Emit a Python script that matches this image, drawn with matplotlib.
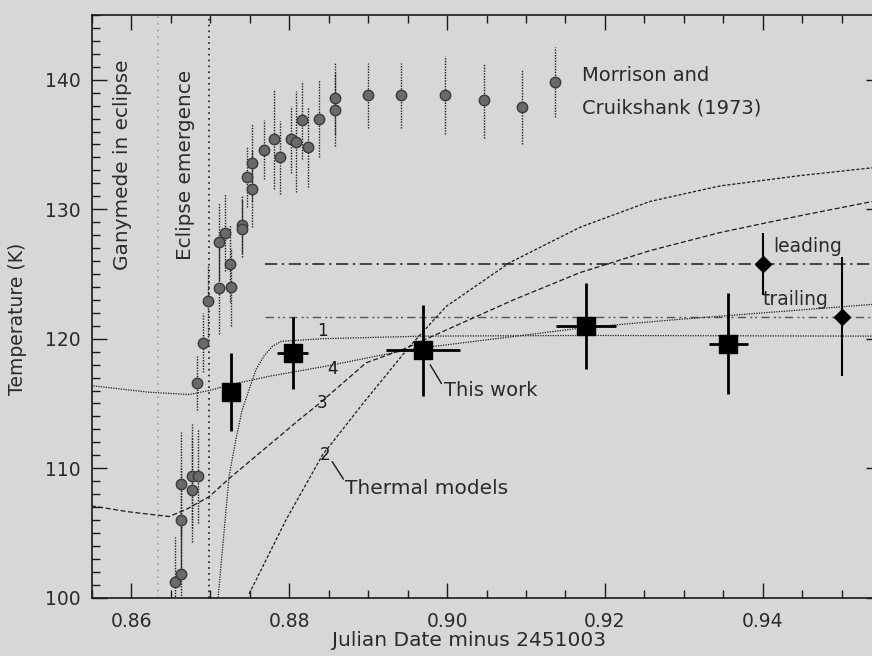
import matplotlib
matplotlib.use("Agg")
import matplotlib.pyplot as plt
from matplotlib.ticker import MultipleLocator

# Morrison and Cruikshank (1973) points
mc_x = [0.86553, 0.86625, 0.86625, 0.86625, 0.86764, 0.86848, 0.86764, 0.86836,
        0.86908, 0.86975, 0.87111, 0.8726, 0.87251, 0.87111, 0.87187, 0.87399,
        0.87399, 0.87463, 0.87534, 0.87534, 0.87674, 0.8781, 0.87882, 0.88022,
        0.88085, 0.88156, 0.88232, 0.88372, 0.8858, 0.8858, 0.88998, 0.89413,
        0.89977, 0.90463, 0.9095]
mc_y = [101.2, 101.8, 106.0, 108.8, 109.4, 109.4, 108.3, 116.6,
        119.7, 122.9, 123.9, 124.0, 125.8, 127.5, 128.2, 128.8,
        128.5, 132.5, 133.6, 131.6, 134.6, 135.4, 134.0, 135.4,
        135.2, 136.9, 134.8, 137.0, 137.7, 138.6, 138.8, 138.8,
        138.8, 138.4, 137.9]
mc_err = [3.5, 4.0, 4.0, 4.0, 4.0, 3.6, 4.0, 2.1,
          2.3, 2.8, 3.5, 3.0, 3.0, 3.0, 3.0, 2.2,
          2.2, 2.3, 3.0, 3.0, 2.3, 3.8, 2.8, 2.6,
          3.9, 3.0, 3.1, 3.0, 2.8, 2.8, 2.5, 2.5,
          3.0, 2.9, 2.9]
key_x, key_y, key_err = 0.91369, 139.8, 2.7

# This work
tw_x = [0.8726, 0.88042, 0.89693, 0.91759, 0.93566]
tw_y = [115.9, 118.9, 119.1, 121.0, 119.6]
tw_yerr = [3.0, 2.8, 3.5, 3.3, 3.9]
tw_xerr = [0.0, 0.002, 0.0047, 0.0038, 0.0025]

# leading / trailing hemispheres
lt_x = [0.94, 0.9501]
lt_y = [125.8, 121.7]
lt_err = [2.4, 4.6]

# thermal models
m1_x = [0.87098, 0.87153, 0.87238, 0.87323, 0.87403, 0.87577, 0.87683, 0.87784, 0.8790,
        0.8842, 0.8969, 0.9176, 0.9539]
m1_y = [100.0, 103.7, 109.4, 112.2, 114.5, 117.6, 118.7, 119.4, 119.8,
        120.0, 120.2, 120.25, 120.2]
m2_x = [0.87492, 0.87958, 0.88423, 0.88974, 0.89524, 0.8999, 0.9012, 0.90794, 0.91683,
        0.92571, 0.9346, 0.94476, 0.9539]
m2_y = [100.3, 106.0, 111.04, 115.3, 119.4, 122.5, 123.04, 125.88, 128.6,
        130.6, 131.8, 132.6, 133.2]
m3_x = [0.85486, 0.85968, 0.86476, 0.86688, 0.86984, 0.87238, 0.88127, 0.88381, 0.88974,
        0.89439, 0.90857, 0.91683, 0.92571, 0.9346, 0.94476, 0.9539]
m3_y = [107.1, 106.63, 106.27, 106.8, 107.8, 109.2, 113.75, 115.0, 118.14,
        119.17, 123.04, 125.1, 126.8, 128.2, 129.5, 130.6]
m4_x = [0.85486, 0.86222, 0.8673, 0.86984, 0.8726, 0.87746, 0.88466, 0.89524, 0.91759,
        0.92952, 0.9539]
m4_y = [116.38, 115.87, 115.69, 116.0, 116.46, 117.1, 117.88, 119.17, 120.87,
        121.5, 122.65]

leading_T = 125.8
trailing_T = 121.7
level_start = 0.8769
eclipse_in = 0.86337
eclipse_out = 0.86984

bg = "#d7d7d7"
ink = "#1a1a1a"
txt = "#2a2a2a"
plt.rcParams["font.family"] = "DejaVu Sans"

fig = plt.figure(figsize=(8.72, 6.56), dpi=100, facecolor=bg)
ax = fig.add_axes([92 / 872, 58.3 / 656, 789 / 872, 582.7 / 656])
ax.set_facecolor(bg)
ax.set_xlim(0.855, 0.955)
ax.set_ylim(100, 145)

# vertical event markers
ax.axvline(eclipse_in, color="#9a9a9a", lw=1.2, ls=(0, (1, 3)))
ax.axvline(eclipse_out, color=ink, lw=1.2, ls=(0, (1, 2.5)))
ax.text(0.8589, 141.6, "Ganymede in eclipse", rotation=90, ha="center", va="top",
        fontsize=14.4, color=txt)
ax.text(0.86684, 140.8, "Eclipse emergence", rotation=90, ha="center", va="top",
        fontsize=14.4, color=txt)

# horizontal leading/trailing levels
ax.plot([level_start, 0.955], [leading_T, leading_T], color=ink, lw=1.1, ls=(0, (8, 3, 1.5, 3)))
ax.plot([level_start, 0.955], [trailing_T, trailing_T], color="#555555", lw=1.0,
        ls=(0, (6, 3, 1.5, 2, 1.5, 3)))

# thermal models
ax.plot(m1_x, m1_y, color=ink, lw=0.9, ls=(0, (1, 1)))
ax.plot(m2_x, m2_y, color=ink, lw=0.9, ls=(0, (2.5, 1.5)))
ax.plot(m3_x, m3_y, color=ink, lw=0.9, ls=(0, (4, 2)))
ax.plot(m4_x, m4_y, color=ink, lw=0.9, ls=(0, (1, 1)))
for lab, lx, ly in [("1", 0.8842, 120.6), ("4", 0.8855, 117.7), ("3", 0.8842, 115.0), ("2", 0.8845, 111.0)]:
    ax.text(lx, ly, lab, fontsize=12, color=ink, ha="center", va="center")

# Morrison & Cruikshank
ax.errorbar(mc_x, mc_y, yerr=mc_err, fmt="o", ms=7.5, mfc="#6a6a6a", mec="#3a3a3a",
            ecolor=ink, elinewidth=1.0, capsize=0, zorder=3)
ax.errorbar([key_x], [key_y], yerr=[key_err], fmt="o", ms=7.5, mfc="#6a6a6a", mec="#3a3a3a",
            ecolor=ink, elinewidth=1.0, capsize=0, zorder=3)
for c in ax.collections:
    c.set_linestyle((0, (1, 1)))
ax.text(0.91708, 140.35, "Morrison and", fontsize=14, color=txt, va="center")
ax.text(0.91708, 137.85, "Cruikshank (1973)", fontsize=14, color=txt, va="center")

# this work
ax.errorbar(tw_x, tw_y, yerr=tw_yerr, xerr=tw_xerr, fmt="s", ms=13, mfc="black", mec="black",
            ecolor="black", elinewidth=2.0, capsize=0, zorder=4)
ax.plot([0.89788, 0.89928], [117.97, 116.55], color=ink, lw=1.0)
ax.text(0.89956, 116.0, "This work", fontsize=14, color=txt, va="center")
ax.plot([0.88546, 0.88686], [110.49, 109.17], color=ink, lw=1.0)
ax.text(0.88711, 108.4, "Thermal models", fontsize=14.5, color=txt, va="center")

# leading / trailing
ax.errorbar(lt_x, lt_y, yerr=lt_err, fmt="D", ms=8, mfc="black", mec="black",
            ecolor="black", elinewidth=1.5, capsize=0, zorder=4)
ax.text(0.9414, 127.1, "leading", fontsize=13.5, color=txt, va="center")
ax.text(0.9400, 123.0, "trailing", fontsize=13.5, color=txt, va="center")

# axes styling
for s in ["left", "bottom", "top", "right"]:
    ax.spines[s].set_color(ink)
    ax.spines[s].set_linewidth(1.2)
ax.xaxis.set_major_locator(MultipleLocator(0.02))
ax.xaxis.set_minor_locator(MultipleLocator(0.005))
ax.yaxis.set_major_locator(MultipleLocator(10))
ax.yaxis.set_minor_locator(MultipleLocator(1))
ax.tick_params(which="both", direction="in", top=True, right=True, color=ink, width=1.0,
               labelcolor=txt)
ax.tick_params(axis="x", labelsize=13.5, pad=10)
ax.tick_params(axis="y", labelsize=13.5, pad=8)
ax.tick_params(which="major", length=11)
ax.tick_params(which="minor", length=5.5)
ax.set_xticks([0.86, 0.88, 0.90, 0.92, 0.94])
ax.set_xticklabels(["0.86", "0.88", "0.90", "0.92", "0.94"])
ax.set_xlabel("Julian Date minus 2451003", fontsize=14.5, color=txt)
ax.set_ylabel("Temperature (K)", fontsize=13.5, color=txt)
ax.xaxis.set_label_coords(0.478, -0.0571)
ax.yaxis.set_label_coords(-0.0824, 0.478)

fig.savefig("out.png", dpi=100, facecolor=bg)
